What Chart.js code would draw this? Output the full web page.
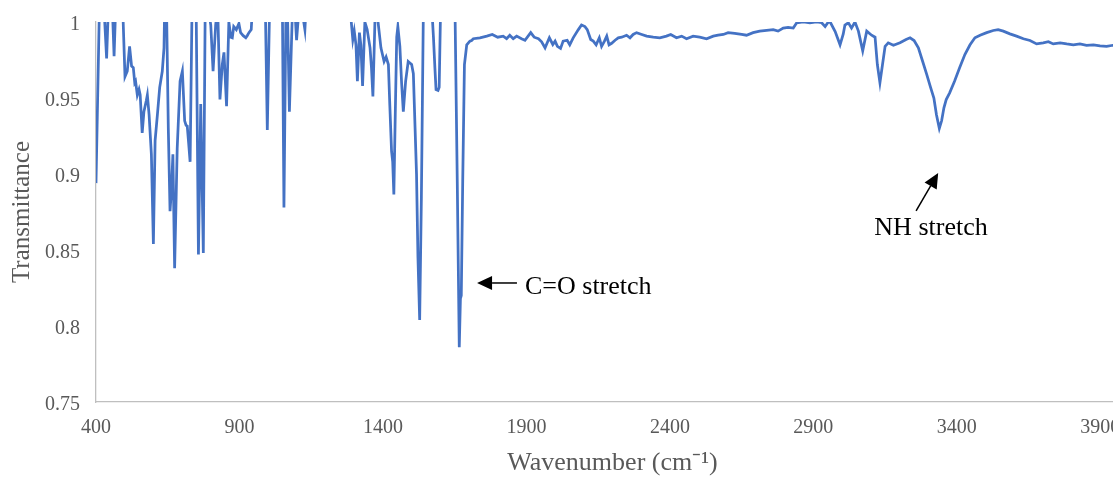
<!DOCTYPE html>
<html><head><meta charset="utf-8">
<script src="https://cdn.jsdelivr.net/npm/chart.js@4"></script>
<style>
html,body{margin:0;padding:0;overflow:hidden;background:#fff;width:1113px;height:477px}
#wrap{position:absolute;left:0;top:0;width:1140px;height:477px}
</style>
</head><body><div id="wrap"><canvas id="c"></canvas></div>
<script>
const wavenumber = [400,414,425,437,445,455,463,472,485,493,501,509,517,524,530,535,538,544,550,554,561,567,575,579,585,593,600,606,614,622,631,637,641,645,652,658,663,668,674,683,693,701,709,714,718,723,728,736,748,752,757,765,774,781,790,800,808,817,824,832,840,846,855,863,870,875,880,889,898,904,913,922,927,933,941,948,960,980,991,997,1005,1020,1040,1050,1055,1062,1068,1074,1085,1094,1099,1106,1120,1128,1135,1160,1200,1250,1285,1295,1300,1306,1311,1318,1323,1329,1337,1345,1355,1360,1365,1372,1380,1393,1404,1411,1419,1424,1430,1434,1438,1443,1448,1452,1459,1465,1471,1479,1488,1494,1500,1506,1512,1517,1522,1528,1534,1541,1560,1570,1576,1581,1585,1592,1596,1601,1620,1645,1651,1659,1666,1670,1673,1678,1684,1692,1703,1709,1715,1738,1762,1781,1800,1819,1831,1842,1854,1866,1883,1895,1915,1927,1942,1953,1965,1980,1992,2000,2008,2019,2028,2042,2051,2063,2081,2092,2104,2112,2124,2133,2143,2154,2162,2172,2180,2188,2197,2209,2220,2232,2249,2261,2272,2284,2302,2319,2342,2365,2388,2403,2423,2441,2458,2481,2504,2528,2551,2568,2586,2603,2626,2650,2667,2690,2713,2737,2760,2777,2795,2812,2830,2842,2865,2888,2911,2929,2941,2952,2960,2976,2993,3004,3010,3022,3033,3045,3057,3072,3086,3103,3115,3123,3132,3141,3150,3161,3179,3202,3223,3237,3251,3266,3281,3295,3309,3320,3329,3339,3347,3355,3363,3375,3392,3410,3428,3446,3463,3481,3504,3527,3544,3562,3585,3608,3632,3655,3678,3701,3719,3736,3760,3783,3806,3829,3852,3876,3899,3922,3944,4000];
const transmittance = [0.894,1.03,1.02,0.976,1.02,1.02,0.9775,1.03,1.04,1.01,0.964,0.9676,0.984,0.971,0.970,0.960,0.961,0.952,0.9556,0.952,0.927,0.941,0.948,0.952,0.939,0.913,0.854,0.922,0.939,0.957,0.9676,0.983,1.03,1.02,0.93,0.8755,0.89,0.913,0.838,0.917,0.961,0.9676,0.935,0.932,0.9315,0.92,0.908,1.03,1.03,0.95,0.847,0.946,0.848,1.02,1.01,0.998,0.9676,0.998,1.01,0.949,0.972,0.980,0.9446,1.0,0.990,0.9896,0.997,0.995,0.999,0.993,0.991,0.9896,0.991,0.993,0.995,1.02,1.04,1.03,1.0,0.929,1.01,1.03,1.02,1.0,0.878,1.01,1.0,0.941,1.01,1.005,0.988,1.005,1.005,0.995,1.02,1.04,1.05,1.04,1.01,0.9885,0.994,0.985,0.961,0.993,0.985,0.958,1.0,0.995,0.983,0.97,0.951,1.0,1.005,0.983,0.974,0.977,0.972,0.945,0.915,0.908,0.8865,0.94,0.99,0.997,0.984,0.96,0.941,0.961,0.974,0.973,0.972,0.966,0.93,0.90,0.845,0.804,0.885,1.01,1.02,1.01,0.99,0.97,0.9556,0.955,0.957,1.01,1.03,1.02,1.01,0.895,0.786,0.818,0.82,0.895,0.972,0.985,0.9874,0.9878,0.989,0.9896,0.9907,0.9918,0.990,0.9907,0.989,0.9913,0.989,0.9907,0.989,0.988,0.993,0.990,0.989,0.987,0.983,0.9896,0.9852,0.9874,0.984,0.9826,0.9874,0.988,0.985,0.9896,0.995,0.998,0.997,0.995,0.9885,0.9874,0.985,0.9896,0.984,0.9874,0.9907,0.985,0.986,0.988,0.9896,0.990,0.9913,0.9896,0.9918,0.993,0.9918,0.9907,0.990,0.9896,0.9907,0.9918,0.9896,0.9907,0.989,0.9907,0.990,0.989,0.9907,0.9913,0.9918,0.993,0.9925,0.9918,0.9913,0.993,0.994,0.9945,0.995,0.994,0.996,0.9965,0.996,0.9995,1.0,0.9995,1.0,0.9995,0.997,1.0,0.9995,0.9937,0.985,0.992,0.998,0.9995,0.996,1.0,0.994,0.981,0.994,0.9913,0.990,0.972,0.960,0.972,0.984,0.9863,0.9847,0.9863,0.9885,0.9896,0.9878,0.983,0.974,0.9655,0.9567,0.950,0.939,0.930,0.935,0.9435,0.949,0.9534,0.961,0.970,0.9786,0.985,0.9896,0.9913,0.993,0.9944,0.995,0.994,0.9922,0.9907,0.989,0.9878,0.9856,0.9863,0.987,0.9856,0.9863,0.9856,0.985,0.9856,0.9847,0.985,0.9843,0.984,0.9847,0.9845];
const xTicks = [400,900,1400,1900,2400,2900,3400,3900];
const yTicks = [0.75,0.8,0.85,0.9,0.95,1];
const annotationLabels = [
  {text:'C=O stretch', tip:[1728,0.8283], tail:[1867,0.8283], textAt:[1895,0.8257], align:'left'},
  {text:'NH stretch', tip:[3335,0.9007], tail:[3258,0.8757], textAt:[3310,0.8645], align:'center'}
];

const FONT = '"Liberation Serif", "Times New Roman", serif';

const annotPlugin = {
  id:'annot',
  afterDatasetsDraw(chart){
    const {ctx, scales:{x,y}} = chart;
    ctx.save();
    annotationLabels.forEach(a=>{
      const tx=x.getPixelForValue(a.tip[0]), ty=y.getPixelForValue(a.tip[1]);
      const sx=x.getPixelForValue(a.tail[0]), sy=y.getPixelForValue(a.tail[1]);
      const ang=Math.atan2(ty-sy, tx-sx);
      const L=15, W=7;
      const bx=tx-L*Math.cos(ang), by=ty-L*Math.sin(ang);
      ctx.strokeStyle='#000'; ctx.lineWidth=1.5;
      ctx.beginPath(); ctx.moveTo(sx,sy); ctx.lineTo(bx,by); ctx.stroke();
      ctx.fillStyle='#000';
      ctx.beginPath();
      ctx.moveTo(tx,ty);
      ctx.lineTo(bx+W*Math.sin(ang), by-W*Math.cos(ang));
      ctx.lineTo(bx-W*Math.sin(ang), by+W*Math.cos(ang));
      ctx.closePath(); ctx.fill();
      ctx.font='26px '+FONT;
      ctx.textAlign=a.align; ctx.textBaseline='middle';
      ctx.fillText(a.text, x.getPixelForValue(a.textAt[0]), y.getPixelForValue(a.textAt[1]));
    });
    ctx.restore();
  }
};

new Chart(document.getElementById('c'), {
  type:'line',
  data:{datasets:[{
    data: wavenumber.map((w,i)=>({x:w,y:transmittance[i]})),
    borderColor:'#4472C4', borderWidth:2.75, pointRadius:0, tension:0, clip:0, fill:false
  }]},
  options:{
    responsive:true, maintainAspectRatio:false, animation:false, devicePixelRatio:1,
    layout:{padding:{top:22,right:11,left:0,bottom:0}},
    plugins:{legend:{display:false}, tooltip:{enabled:false}},
    scales:{
      x:{
        type:'linear', min:400, max:4000,
        afterBuildTicks(s){ s.ticks = xTicks.map(v=>({value:v})); },
        afterFit(s){ s.height = 75; s.paddingLeft = 0; s.paddingRight = 0; },
        grid:{display:false, drawTicks:false},
        border:{display:true, color:'#bfbfbf', width:1.3},
        ticks:{padding:14, color:'#595959', font:{family:FONT, size:20}, maxRotation:0, autoSkip:false, callback:v=>String(v)},
        title:{display:true, text:'Wavenumber (cm⁻¹)', color:'#595959', font:{family:FONT, size:26, lineHeight:1.077}, padding:{top:0,bottom:0}}
      },
      y:{
        min:0.75, max:1,
        afterBuildTicks(s){ s.ticks = yTicks.map(v=>({value:v})); },
        afterFit(s){ s.width = 96; s.paddingTop = 0; s.paddingBottom = 0; },
        grid:{display:false, drawTicks:false},
        border:{display:true, color:'#bfbfbf', width:1.3},
        ticks:{padding:16, labelOffset:3, color:'#595959', font:{family:FONT, size:20}, callback:v=>String(+(+v).toFixed(2))},
        title:{display:true, text:'Transmittance', color:'#595959', font:{family:FONT, size:25, lineHeight:1.2}, padding:{top:7,bottom:0}}
      }
    }
  },
  plugins:[annotPlugin]
});
</script>
</body></html>
